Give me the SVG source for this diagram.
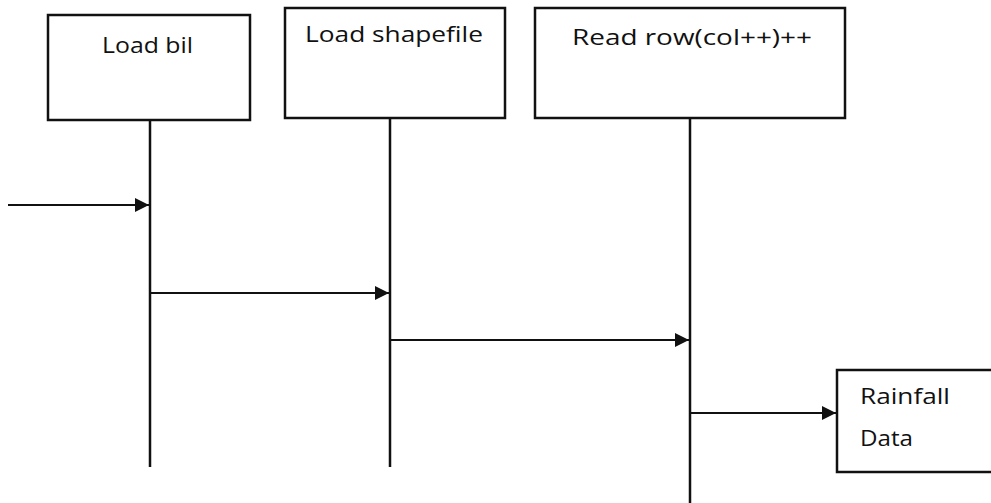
<svg xmlns="http://www.w3.org/2000/svg" width="991" height="503" viewBox="0 0 991 503">
  <style>
    .box { fill: #ffffff; stroke: #111111; stroke-width: 2.5; }
    .life { stroke: #111111; stroke-width: 2.5; fill: none; }
    .msg { stroke: #111111; stroke-width: 2; fill: none; marker-end: url(#arrow); }
    .label { font-family: "Open Sans", "Noto Sans", sans-serif; font-size: 22px; fill: #111111; }
  </style>
  <defs>
    <marker id="arrow" viewBox="0 0 10 10" refX="10" refY="5" markerWidth="14" markerHeight="14" markerUnits="userSpaceOnUse" orient="auto">
      <path d="M0,0 L10,5 L0,10 Z" fill="#111111"/>
    </marker>
  </defs>
  <rect width="991" height="503" fill="#ffffff"/>

  <g id="load-bil">
    <rect class="box" x="48" y="15" width="202" height="105"/>
    <text class="label" x="102" y="53" textLength="91" lengthAdjust="spacingAndGlyphs">Load bil</text>
  </g>
  <g id="load-shapefile">
    <rect class="box" x="285" y="8" width="220" height="110"/>
    <text class="label" x="305" y="42" textLength="178" lengthAdjust="spacingAndGlyphs">Load shapefile</text>
  </g>
  <g id="read-row">
    <rect class="box" x="535" y="8" width="310" height="110"/>
    <text class="label" x="572" y="45" textLength="240" lengthAdjust="spacingAndGlyphs">Read row(col++)++</text>
  </g>
  <g id="rainfall-data">
    <rect class="box" x="837" y="370" width="160" height="102"/>
    <text class="label" x="860" y="404" textLength="90" lengthAdjust="spacingAndGlyphs">Rainfall</text>
    <text class="label" x="860" y="446" textLength="53" lengthAdjust="spacingAndGlyphs">Data</text>
  </g>

  <g id="connectors">
    <line class="life" x1="150" y1="120" x2="150" y2="467"/>
    <line class="life" x1="390" y1="118" x2="390" y2="467"/>
    <line class="life" x1="690" y1="118" x2="690" y2="503"/>
    <line class="msg" x1="8" y1="205" x2="149" y2="205"/>
    <line class="msg" x1="150" y1="293" x2="389" y2="293"/>
    <line class="msg" x1="390" y1="340" x2="689" y2="340"/>
    <line class="msg" x1="690" y1="413" x2="836" y2="413"/>
  </g>
</svg>
